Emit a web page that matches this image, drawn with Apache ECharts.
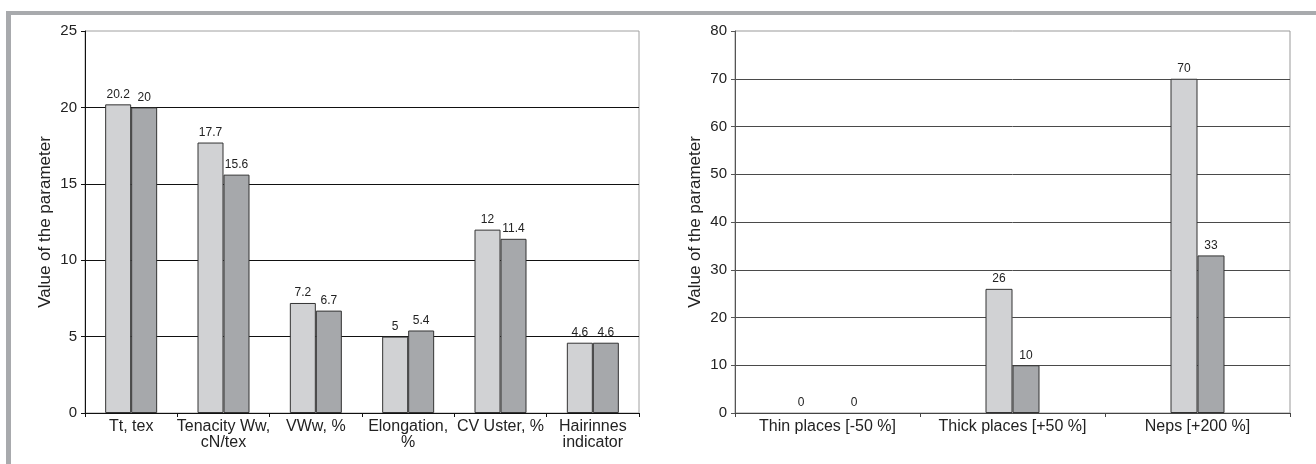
<!DOCTYPE html>
<html>
<head>
<meta charset="utf-8">
<script src="https://cdn.jsdelivr.net/npm/echarts@6/dist/echarts.min.js"></script>
<style>
html, body { margin: 0; padding: 0; background: #fff; }
#chart { width: 1316px; height: 464px; }
</style>
</head>
<body>
<div id="chart"></div>
<script>
// yarn parameters (left panel)
var paramCats = ['Tt, tex', 'Tenacity Ww,\ncN/tex', 'VWw, %', 'Elongation,\n%', 'CV Uster, %', 'Hairinnes\nindicator'];
var paramA = [20.2, 17.7, 7.2, 5, 12, 4.6];
var paramB = [20, 15.6, 6.7, 5.4, 11.4, 4.6];

// yarn faults (right panel)
var faultCats = ['Thin places [-50 %]', 'Thick places [+50 %]', 'Neps [+200 %]'];
var faultA = [0, 26, 70];
var faultB = [0, 10, 33];

var FONT = '"Liberation Sans", Arial, sans-serif';
var LIGHT = '#d1d2d4';
var DARK = '#a6a8ab';

var chart = echarts.init(document.getElementById('chart'));

function yAxis(gridIndex, max, interval, axisColor, gridColor) {
	return {
		type: 'value',
		gridIndex: gridIndex,
		min: 0,
		max: max,
		interval: interval,
		name: 'Value of the parameter',
		nameLocation: 'middle',
		nameGap: 31,
		nameTextStyle: { fontFamily: FONT, fontSize: 17, color: '#222' },
		axisLine: { show: true, lineStyle: { color: axisColor, width: 1 } },
		axisTick: { show: true, length: 4, lineStyle: { color: axisColor } },
		axisLabel: { margin: 8, fontFamily: FONT, fontSize: 15, color: '#222' },
		splitLine: { show: true, showMaxLine: false, lineStyle: { color: gridColor, width: 1 } }
	};
}

function xAxis(gridIndex, cats, axisColor) {
	return {
		type: 'category',
		gridIndex: gridIndex,
		data: cats,
		axisLine: { show: true, lineStyle: { color: axisColor, width: 1 } },
		axisTick: { show: true, length: 4, alignWithLabel: false, lineStyle: { color: axisColor } },
		axisLabel: { interval: 0, margin: 6, fontFamily: FONT, fontSize: 16, lineHeight: 16, color: '#222' }
	};
}

function barSeries(name, idx, vals, color, width, gap, shift) {
	return {
		name: name,
		type: 'bar',
		xAxisIndex: idx,
		yAxisIndex: idx,
		barWidth: width,
		barGap: '0%',
		barCategoryGap: gap,
		// zero bars: no outline, label pushed out a bit like the original
		data: vals.map(function (v) {
			return v === 0 ? { value: v, itemStyle: { borderWidth: 0 }, label: { offset: [shift, 0] } } : v;
		}),
		itemStyle: { color: color, borderColor: '#333', borderWidth: 1 },
		label: { show: true, position: 'top', distance: 4, fontFamily: FONT, fontSize: 12, color: '#222' }
	};
}

var option = {
	animation: false,
	backgroundColor: '#fff',
	graphic: [
		{ type: 'rect', shape: { x: 6, y: 11, width: 1310, height: 4 }, style: { fill: '#a8aaad' } },
		{ type: 'rect', shape: { x: 6, y: 11, width: 5, height: 453 }, style: { fill: '#a8aaad' } }
	],
	grid: [
		{ left: 85, right: 677, top: 31, bottom: 51, show: true, borderColor: '#a0a0a0', borderWidth: 1 },
		{ left: 735, right: 26, top: 31, bottom: 51, show: true, borderColor: '#999', borderWidth: 1 }
	],
	xAxis: [xAxis(0, paramCats, '#111'), xAxis(1, faultCats, '#444')],
	yAxis: [yAxis(0, 25, 5, '#111', '#111'), yAxis(1, 80, 10, '#555', '#4a4a4a')],
	series: [
		barSeries('Yarn A', 0, paramA, LIGHT, 26, '40%', 0),
		barSeries('Yarn B', 0, paramB, DARK, 26, '40%', 0),
		barSeries('Yarn A', 1, faultA, LIGHT, 27, '70%', -13),
		barSeries('Yarn B', 1, faultB, DARK, 27, '70%', 13)
	]
};

chart.setOption(option);
</script>
</body>
</html>
